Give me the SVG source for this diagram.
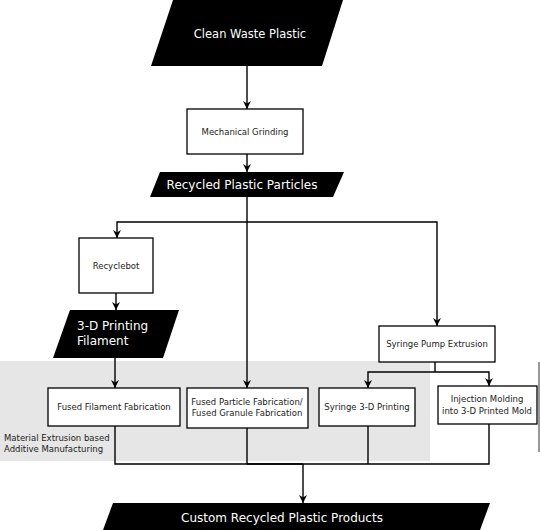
<svg xmlns="http://www.w3.org/2000/svg" width="540" height="530" viewBox="0 0 540 530">
<defs>
<marker id="arr" viewBox="0 0 10 10" refX="10" refY="5" markerWidth="8" markerHeight="8" markerUnits="userSpaceOnUse" orient="auto">
<path d="M0,0 L10,5 L0,10 L3,5 z" fill="#000"/>
</marker>
<style>
.io{fill:#000}
.iot{fill:#fff;font-family:"DejaVu Sans",sans-serif;font-size:12px}
.box{fill:#fff;stroke:#000;stroke-width:1.3}
.bt{fill:#222;font-family:"DejaVu Sans",sans-serif;font-size:8.5px;text-anchor:middle}
.c{fill:none;stroke:#000;stroke-width:1.4}
.a{marker-end:url(#arr)}
</style>
</defs>
<rect width="540" height="530" fill="#fff"/>
<g id="am-region">
<rect x="0" y="361" width="430" height="100" fill="#e6e6e6"/>
<text x="4" y="441" style="fill:#222;font-family:'DejaVu Sans',sans-serif;font-size:8.5px">Material Extrusion based</text>
<text x="4" y="452" style="fill:#222;font-family:'DejaVu Sans',sans-serif;font-size:8.5px">Additive Manufacturing</text>
</g>
<line x1="539" y1="362" x2="539" y2="452" stroke="#333" stroke-width="1"/>
<g id="connectors">
<line class="c a" x1="247" y1="66" x2="247" y2="109"/>
<line class="c a" x1="247" y1="154" x2="247" y2="172"/>
<line class="c a" x1="247" y1="197" x2="247" y2="388"/>
<polyline class="c a" points="247,222 117,222 117,238"/>
<polyline class="c a" points="247,222 437,222 437,326"/>
<line class="c a" x1="116" y1="293" x2="116" y2="310"/>
<line class="c a" x1="115" y1="358" x2="115" y2="388"/>
<line class="c" x1="435" y1="362" x2="435" y2="372"/>
<polyline class="c a" points="435,372 368,372 368,388"/>
<polyline class="c a" points="435,372 489,372 489,386"/>
<polyline class="c" points="115,426 115,464 489,464 489,424"/>
<line class="c" x1="247" y1="428" x2="247" y2="464"/>
<line class="c" x1="368" y1="426" x2="368" y2="464"/>
<line class="c" x1="247" y1="464" x2="303" y2="464" stroke-width="2.2"/>
<line class="c a" x1="303" y1="464" x2="303" y2="503"/>
</g>
<g id="clean-waste-plastic">
<polygon class="io" points="173,0 343,0 322,66 151,66"/>
<text class="iot" x="250" y="38" text-anchor="middle" style="font-size:11.5px">Clean Waste Plastic</text>
</g>
<g id="mechanical-grinding">
<rect class="box" x="187" y="109" width="116" height="45"/>
<text class="bt" x="245" y="135">Mechanical Grinding</text>
</g>
<g id="recycled-plastic-particles">
<polygon class="io" points="160,172 344,172 333,197 150,197"/>
<text class="iot" x="242" y="189" text-anchor="middle">Recycled Plastic Particles</text>
</g>
<g id="recyclebot">
<rect class="box" x="79" y="238" width="74" height="55"/>
<text class="bt" x="116" y="269">Recyclebot</text>
</g>
<g id="printing-filament">
<polygon class="io" points="70,310 179,310 163,358 53,358"/>
<text class="iot" x="77" y="330">3-D Printing</text>
<text class="iot" x="77" y="345">Filament</text>
</g>
<g id="syringe-pump-extrusion">
<rect class="box" x="379" y="326" width="116" height="36"/>
<text class="bt" x="437" y="347">Syringe Pump Extrusion</text>
</g>
<g id="fused-filament-fabrication">
<rect class="box" x="48" y="388" width="132" height="38"/>
<text class="bt" x="114" y="410">Fused Filament Fabrication</text>
</g>
<g id="fused-particle-fabrication">
<rect class="box" x="187" y="388" width="121" height="40"/>
<text class="bt" x="247" y="405">Fused Particle Fabrication/</text>
<text class="bt" x="247" y="416">Fused Granule Fabrication</text>
</g>
<g id="syringe-3d-printing">
<rect class="box" x="319" y="388" width="96" height="38"/>
<text class="bt" x="367" y="410">Syringe 3-D Printing</text>
</g>
<g id="injection-molding">
<rect class="box" x="438" y="386" width="99" height="38"/>
<text class="bt" x="487" y="402">Injection Molding</text>
<text class="bt" x="487" y="414">into 3-D Printed Mold</text>
</g>
<g id="custom-products">
<polygon class="io" points="113,503 490,503 480,530 103,530"/>
<text class="iot" x="282" y="522" text-anchor="middle">Custom Recycled Plastic Products</text>
</g>
</svg>
